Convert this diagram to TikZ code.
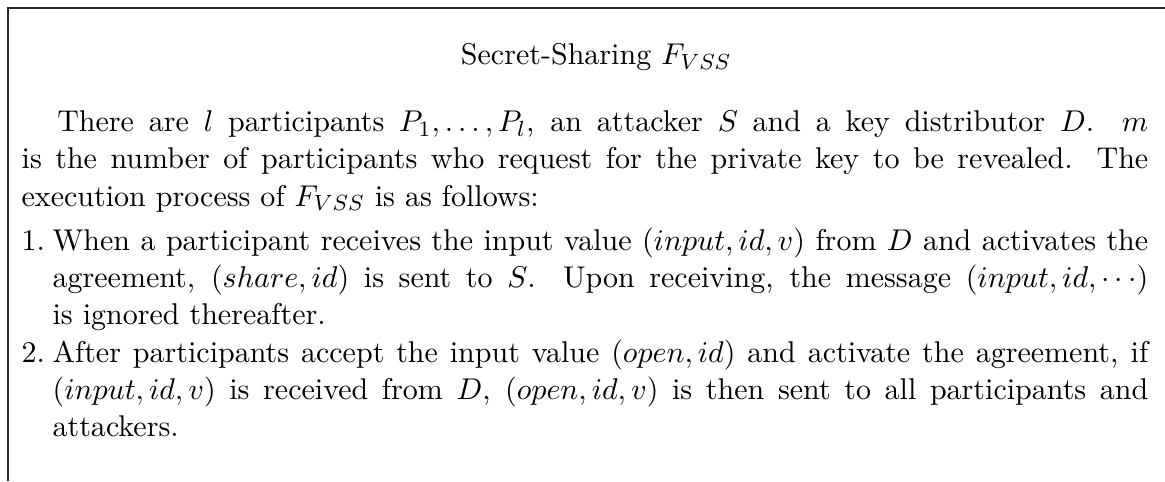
\documentclass[tikz,border=0pt]{standalone}
\usetikzlibrary{positioning}

\tikzset{
  frame/.style={line width=0.7pt, draw=black!85},
  titletext/.style={font=\fontsize{10.95}{13.6}\selectfont, inner sep=0pt},
  bodytext/.style={text width=411pt, align=justify, inner sep=0pt,
    font=\fontsize{10.95}{13.6}\selectfont},
}

% one hanging item of the numbered list
\newcommand{\protoitem}[1]{\par\noindent\hangindent=11.3pt\hangafter=1
  \makebox[11.3pt][l]{#1}\ignorespaces}

\begin{document}
\begin{tikzpicture}[x=1pt,y=1pt]
  \useasboundingbox (0,0) rectangle (425,-175.5);

  % open frame: left side and top side
  \coordinate (fbl) at (2.9,-175.5);
  \coordinate (ftl) at (2.9,-2.9);
  \coordinate (ftr) at (425,-2.9);
  \draw[frame] (fbl) -- (ftl) -- (ftr);

  \node[titletext, anchor=base] (title) at (217.5,-23.7)
    {Secret-Sharing $F_{VSS}$};

  \node[bodytext, anchor=north west] (body) at (7.7,-40.2) {%
    \parindent=13pt\indent There are $l$ participants $P_1,\ldots,P_l$, an attacker $S$ and a key distributor $D$. $m$\linebreak
    is the number of participants who request for the private key to be revealed. The\linebreak
    execution process of $F_{VSS}$ is as follows:\par
    \vspace{2.5pt}%
    \protoitem{1.}When a participant receives the input value $(input,id,v)$ from $D$ and activates the\linebreak
    agreement, $(share,id)$ is sent to $S$. Upon receiving, the message $(input,id,\cdots)$\linebreak
    is ignored thereafter.
    \protoitem{2.}After participants accept the input value $(open,id)$ and activate the agreement, if\linebreak
    $(input,id,v)$ is received from $D$, $(open,id,v)$ is then sent to all participants and\linebreak
    attackers.\par};
\end{tikzpicture}
\end{document}
